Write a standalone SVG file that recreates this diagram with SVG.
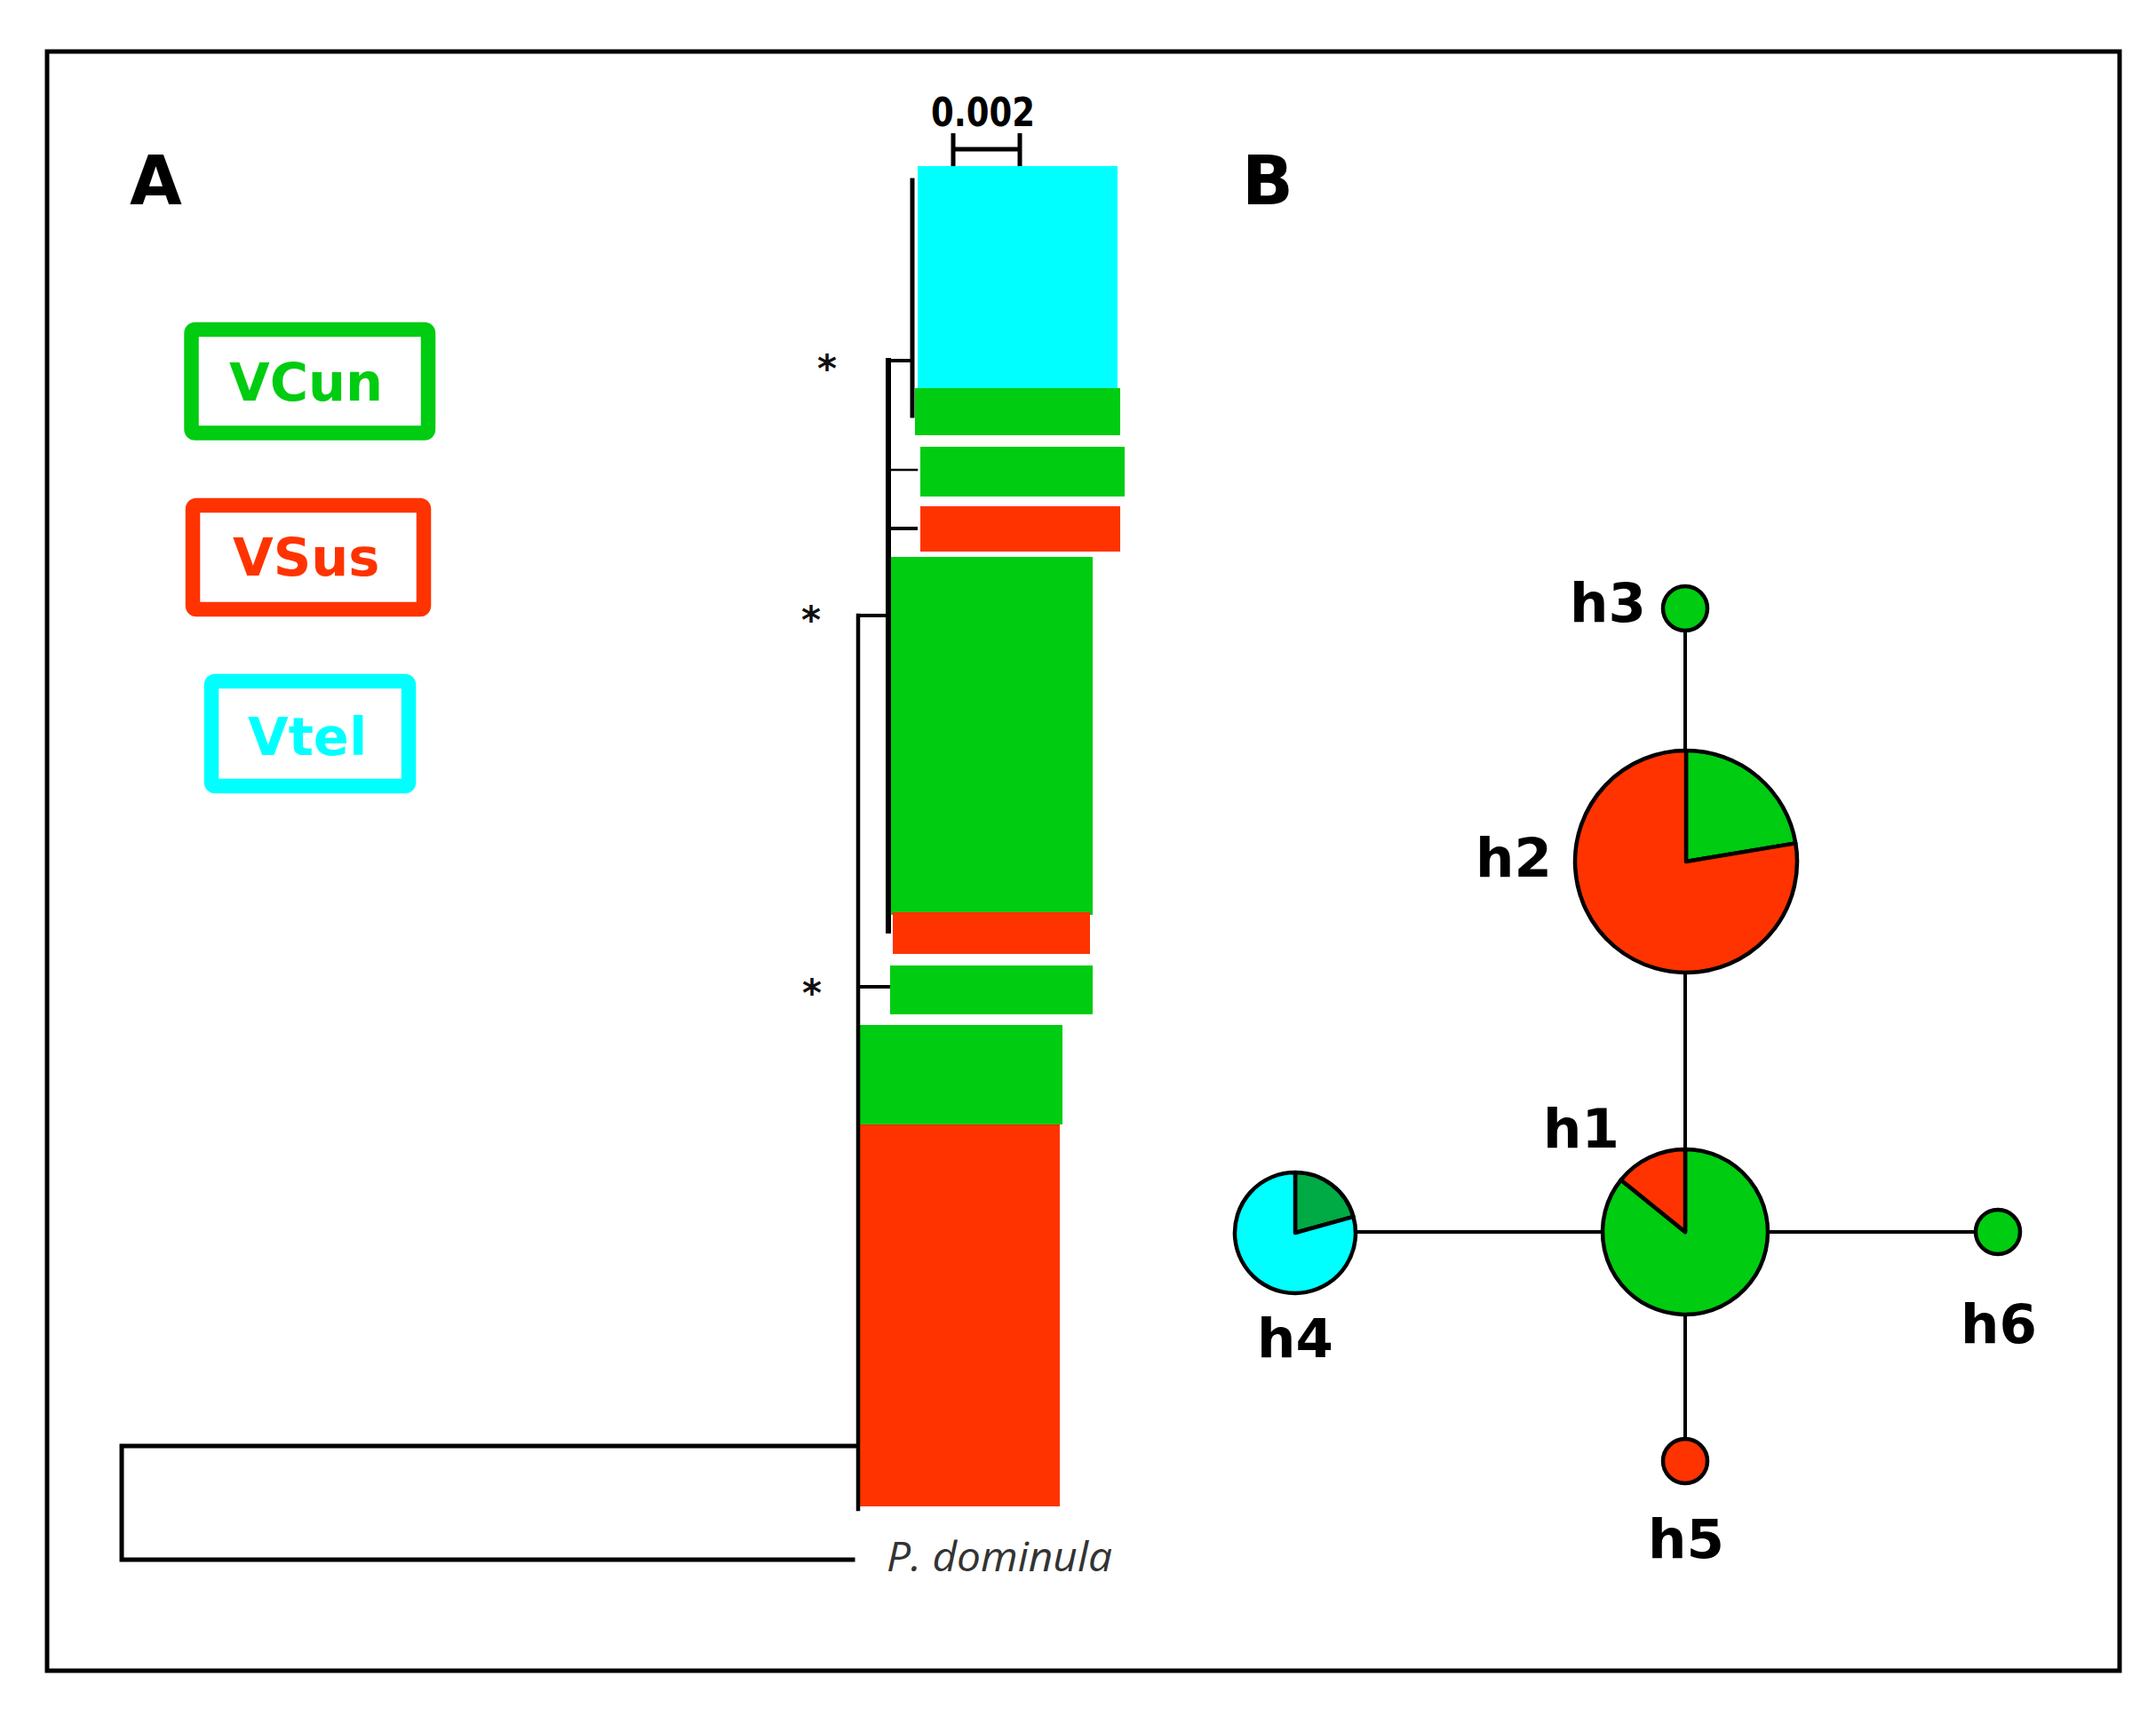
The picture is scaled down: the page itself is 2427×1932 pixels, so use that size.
<svg xmlns="http://www.w3.org/2000/svg" width="2427" height="1932" viewBox="0 0 2427 1932">
<style>
.lab{font-family:"DejaVu Sans",Verdana,sans-serif;font-weight:bold;font-size:61px;fill:#000}
.leg{font-family:"DejaVu Sans",Verdana,sans-serif;font-weight:bold;font-size:59px}
.br{stroke:#000;fill:none;stroke-linecap:square}
.edge{stroke:#000;stroke-width:4;fill:none}
.pie{stroke:#000;stroke-width:4.5;stroke-linejoin:round}
.ast{font-family:"DejaVu Sans",sans-serif;font-weight:bold;font-size:42px;fill:#111;text-anchor:middle}
</style>
<rect x="0" y="0" width="2427" height="1932" fill="#fff"/>
<rect x="53" y="58" width="2333" height="1823" fill="none" stroke="#000" stroke-width="5"/>

<text x="146" y="230" style="font-family:'DejaVu Sans',Verdana,sans-serif;font-weight:bold;font-size:76px">A</text>
<text x="1398" y="230" style="font-family:'DejaVu Sans',Verdana,sans-serif;font-weight:bold;font-size:76px">B</text>

<g id="legend-VCun">
<rect x="215.5" y="371" width="266.5" height="116.5" rx="4" fill="none" stroke="#00CC11" stroke-width="16.5"/>
<text class="leg" x="258" y="451" fill="#00CC11">VCun</text>
</g>
<g id="legend-VSus">
<rect x="217" y="569" width="260" height="117" rx="4" fill="none" stroke="#FF3300" stroke-width="16.5"/>
<text class="leg" x="262" y="648" fill="#FF3300">VSus</text>
</g>
<g id="legend-Vtel">
<rect x="238" y="767" width="222" height="118" rx="4" fill="none" stroke="#00FFFF" stroke-width="16.5"/>
<text class="leg" x="279" y="850" fill="#00FFFF">Vtel</text>
</g>

<g id="scalebar">
<text x="1048" y="142" textLength="117" lengthAdjust="spacingAndGlyphs" style="font-family:'DejaVu Sans',sans-serif;font-weight:bold;font-size:44px;fill:#000">0.002</text>
<path d="M1073 150V187M1148 150V187M1073 168H1148" stroke="#000" stroke-width="5" fill="none"/>
</g>

<g id="tree-tips">
<rect x="1033" y="187" width="225" height="250" fill="#00FFFF"/>
<rect x="1030" y="437" width="231" height="53" fill="#00CC11"/>
<rect x="1036" y="503" width="230" height="56" fill="#00CC11"/>
<rect x="1036" y="570" width="225" height="51" fill="#FF3300"/>
<rect x="1003" y="627" width="227" height="403" fill="#00CC11"/>
<rect x="1005" y="1027" width="222" height="47" fill="#FF3300"/>
<rect x="1002" y="1087" width="228" height="55" fill="#00CC11"/>
<rect x="968" y="1154" width="228" height="112" fill="#00CC11"/>
<rect x="967" y="1266" width="226" height="430" fill="#FF3300"/>
</g>

<g id="tree-branches">
<path class="br" stroke-width="5" d="M963 1628H137V1756H960"/>
<path class="br" stroke-width="4.5" d="M966 693V1699"/>
<path class="br" stroke-width="4" d="M966 693H998M966 1111H1000"/>
<path class="br" stroke-width="6" d="M1000 406V1048"/>
<path class="br" stroke-width="4" d="M1000 406H1026M1000 595H1031"/>
<path class="br" stroke-width="2.5" d="M1000 529H1032" stroke="#333"/>
<path class="br" stroke-width="5" d="M1027 203V468"/>
</g>
<text class="ast" x="931" y="430">*</text>
<text class="ast" x="913" y="713">*</text>
<text class="ast" x="914" y="1133">*</text>

<text x="998" y="1769" textLength="254" lengthAdjust="spacingAndGlyphs" style="font-family:'Open Sans',sans-serif;font-style:italic;font-size:45px;fill:#333">P. dominula</text>

<g id="connectors">
<line class="edge" x1="1897" y1="685" x2="1897" y2="1387"/>
<line class="edge" x1="1897" y1="1387" x2="1897" y2="1645"/>
<line class="edge" x1="1458" y1="1387" x2="2249" y2="1387"/>
</g>

<g id="h3">
<circle class="pie" cx="1897" cy="685" r="25" fill="#00CC11"/>
<text class="lab" x="1767" y="700">h3</text>
</g>
<g id="h2">
<path class="pie" d="M1898 970L1898 845A125 125 0 0 1 2021.3 949.4Z" fill="#00CC11"/>
<path class="pie" d="M1898 970L2021.3 949.4A125 125 0 1 1 1898 845Z" fill="#FF3300"/>
<text class="lab" x="1661" y="987">h2</text>
</g>
<g id="h1">
<path class="pie" d="M1897 1387L1897 1294A93 93 0 1 1 1824.7 1328.5Z" fill="#00CC11"/>
<path class="pie" d="M1897 1387L1824.7 1328.5A93 93 0 0 1 1897 1294Z" fill="#FF3300"/>
<text class="lab" x="1737" y="1292">h1</text>
</g>
<g id="h4">
<path class="pie" d="M1458 1388L1458 1320A68 68 0 0 1 1523.5 1369.8Z" fill="#00AA44"/>
<path class="pie" d="M1458 1388L1523.5 1369.8A68 68 0 1 1 1458 1320Z" fill="#00FFFF"/>
<text class="lab" x="1415" y="1528">h4</text>
</g>
<g id="h6">
<circle class="pie" cx="2249" cy="1387" r="25" fill="#00CC11"/>
<text class="lab" x="2207" y="1512">h6</text>
</g>
<g id="h5">
<circle class="pie" cx="1897" cy="1645" r="25" fill="#FF3300"/>
<text class="lab" x="1855" y="1754">h5</text>
</g>
</svg>
